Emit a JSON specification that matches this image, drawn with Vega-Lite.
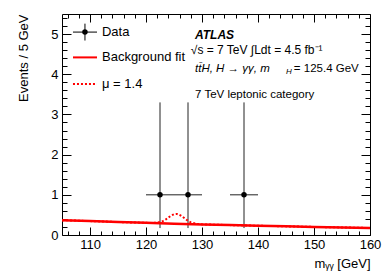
{
  "$schema": "https://vega.github.io/schema/vega-lite/v6.json",
  "width": 308,
  "height": 221,
  "autosize": {"type": "none"},
  "padding": {"left": 62, "top": 14, "right": 20, "bottom": 45},
  "background": "white",
  "config": {
    "view": {"stroke": null},
    "font": "Liberation Sans",
    "axis": {"domainColor": "black", "tickColor": "black", "labelColor": "black", "titleColor": "black", "grid": false, "labelFont": "Liberation Sans", "titleFont": "Liberation Sans", "labelFontSize": 13, "titleFontSize": 13, "titleFontWeight": "normal", "domainWidth": 1, "tickWidth": 1},
    "text": {"font": "Liberation Sans", "color": "black", "align": "left", "baseline": "middle"}
  },
  "datasets": {
    "points": [
      {"series": "Data", "m": 122.5, "n": 1, "lo": 0.173, "hi": 3.3, "mlo": 120, "mhi": 125},
      {"series": "Data", "m": 127.5, "n": 1, "lo": 0.173, "hi": 3.3, "mlo": 125, "mhi": 130},
      {"series": "Data", "m": 137.5, "n": 1, "lo": 0.173, "hi": 3.3, "mlo": 135, "mhi": 140}
    ],
    "bkg": [
      {"series": "Background fit", "m": 105, "v": 0.370},
      {"series": "Background fit", "m": 110, "v": 0.346},
      {"series": "Background fit", "m": 115, "v": 0.323},
      {"series": "Background fit", "m": 120, "v": 0.302},
      {"series": "Background fit", "m": 125, "v": 0.282},
      {"series": "Background fit", "m": 130, "v": 0.264},
      {"series": "Background fit", "m": 135, "v": 0.246},
      {"series": "Background fit", "m": 140, "v": 0.230},
      {"series": "Background fit", "m": 145, "v": 0.215},
      {"series": "Background fit", "m": 150, "v": 0.201},
      {"series": "Background fit", "m": 155, "v": 0.188},
      {"series": "Background fit", "m": 160, "v": 0.175}
    ],
    "sig": [
      {"series": "μ = 1.4", "m": 105, "v": 0.370},
      {"series": "μ = 1.4", "m": 110, "v": 0.346},
      {"series": "μ = 1.4", "m": 115, "v": 0.323},
      {"series": "μ = 1.4", "m": 120, "v": 0.302},
      {"series": "μ = 1.4", "m": 121, "v": 0.300},
      {"series": "μ = 1.4", "m": 122, "v": 0.307},
      {"series": "μ = 1.4", "m": 123, "v": 0.346},
      {"series": "μ = 1.4", "m": 123.5, "v": 0.385},
      {"series": "μ = 1.4", "m": 124, "v": 0.435},
      {"series": "μ = 1.4", "m": 124.5, "v": 0.483},
      {"series": "μ = 1.4", "m": 125, "v": 0.517},
      {"series": "μ = 1.4", "m": 125.5, "v": 0.525},
      {"series": "μ = 1.4", "m": 126, "v": 0.501},
      {"series": "μ = 1.4", "m": 126.5, "v": 0.456},
      {"series": "μ = 1.4", "m": 127, "v": 0.403},
      {"series": "μ = 1.4", "m": 127.5, "v": 0.353},
      {"series": "μ = 1.4", "m": 128, "v": 0.315},
      {"series": "μ = 1.4", "m": 129, "v": 0.276},
      {"series": "μ = 1.4", "m": 130, "v": 0.265},
      {"series": "μ = 1.4", "m": 135, "v": 0.246},
      {"series": "μ = 1.4", "m": 140, "v": 0.230},
      {"series": "μ = 1.4", "m": 145, "v": 0.215},
      {"series": "μ = 1.4", "m": 150, "v": 0.201},
      {"series": "μ = 1.4", "m": 155, "v": 0.188},
      {"series": "μ = 1.4", "m": 160, "v": 0.175}
    ],
    "one": [{"k": 1}]
  },
  "resolve": {"axis": {"x": "independent", "y": "independent"}},
  "layer": [
    {
      "data": {"name": "points"},
      "mark": {"type": "rule", "color": "#222", "strokeWidth": 1},
      "encoding": {
        "x": {"field": "m", "type": "quantitative", "scale": {"domain": [105, 160], "nice": false, "zero": false}, "axis": null},
        "y": {"field": "lo", "type": "quantitative", "scale": {"domain": [0, 5.5], "nice": false}, "axis": null},
        "y2": {"field": "hi"}
      }
    },
    {
      "data": {"name": "points"},
      "mark": {"type": "rule", "color": "#222", "strokeWidth": 1},
      "encoding": {
        "x": {"field": "mlo", "type": "quantitative", "axis": null},
        "x2": {"field": "mhi"},
        "y": {"field": "n", "type": "quantitative", "axis": null}
      }
    },
    {
      "data": {"name": "bkg"},
      "mark": {"type": "line", "strokeWidth": 2.5, "color": "#ff0000"},
      "encoding": {
        "x": {"field": "m", "type": "quantitative", "title": "mᵧᵧ [GeV]",
          "axis": {"orient": "bottom", "values": [106,108,110,112,114,116,118,120,122,124,126,128,130,132,134,136,138,140,142,144,146,148,150,152,154,156,158,160],
            "labelExpr": "datum.value % 10 === 0 ? datum.label : ''",
            "tickSize": {"condition": {"test": "datum.value % 10 === 0", "value": -8}, "value": -4},
            "labelPadding": 11, "titleAnchor": "end", "titlePadding": 2, "labelFlush": false, "labelOverlap": false}},
        "y": {"field": "v", "type": "quantitative", "title": "Events / 5 GeV",
          "axis": {"orient": "left", "values": [0,0.2,0.4,0.6,0.8,1,1.2,1.4,1.6,1.8,2,2.2,2.4,2.6,2.8,3,3.2,3.4,3.6,3.8,4,4.2,4.4,4.6,4.8,5,5.2,5.4],
            "labelExpr": "datum.value % 1 === 0 ? format(datum.value, 'd') : ''",
            "tickSize": {"condition": {"test": "datum.value % 1 === 0", "value": -9}, "value": -5},
            "labelPadding": 13, "titleAnchor": "end", "titlePadding": 20, "labelFlush": false, "labelOverlap": false}}
      }
    },
    {
      "data": {"name": "sig"},
      "mark": {"type": "line", "strokeWidth": 2, "strokeDash": [2, 2], "color": "#ff0000"},
      "encoding": {
        "x": {"field": "m", "type": "quantitative", "title": null,
          "axis": {"orient": "top", "values": [106,108,110,112,114,116,118,120,122,124,126,128,130,132,134,136,138,140,142,144,146,148,150,152,154,156,158,160],
            "labels": false,
            "tickSize": {"condition": {"test": "datum.value % 10 === 0", "value": -8}, "value": -4}}},
        "y": {"field": "v", "type": "quantitative", "title": null,
          "axis": {"orient": "right", "values": [0,0.2,0.4,0.6,0.8,1,1.2,1.4,1.6,1.8,2,2.2,2.4,2.6,2.8,3,3.2,3.4,3.6,3.8,4,4.2,4.4,4.6,4.8,5,5.2,5.4],
            "labels": false,
            "tickSize": {"condition": {"test": "datum.value % 1 === 0", "value": -9}, "value": -5}}}
      }
    },
    {
      "data": {"name": "points"},
      "mark": {"type": "point", "filled": true, "opacity": 1, "size": 30, "shape": "circle", "color": "black"},
      "encoding": {
        "x": {"field": "m", "type": "quantitative", "axis": null},
        "y": {"field": "n", "type": "quantitative", "axis": null}
      }
    },
    {
      "data": {"name": "one"},
      "mark": {"type": "rule", "color": "black", "strokeWidth": 1},
      "encoding": {"x": {"datum": 106.96, "type": "quantitative", "axis": null}, "x2": {"datum": 111.25}, "y": {"datum": 5.05, "type": "quantitative", "axis": null}}
    },
    {
      "data": {"name": "one"},
      "mark": {"type": "rule", "color": "black", "strokeWidth": 1},
      "encoding": {"x": {"datum": 109.1, "type": "quantitative", "axis": null}, "y": {"datum": 5.26, "type": "quantitative", "axis": null}, "y2": {"datum": 4.84}}
    },
    {
      "data": {"name": "one"},
      "mark": {"type": "point", "filled": true, "opacity": 1, "size": 30, "shape": "circle", "color": "black"},
      "encoding": {"x": {"datum": 109.1, "type": "quantitative", "axis": null}, "y": {"datum": 5.05, "type": "quantitative", "axis": null}}
    },
    {
      "data": {"name": "one"},
      "mark": {"type": "rule", "color": "#ff0000", "strokeWidth": 2},
      "encoding": {"x": {"datum": 106.96, "type": "quantitative", "axis": null}, "x2": {"datum": 111.25}, "y": {"datum": 4.42, "type": "quantitative", "axis": null}}
    },
    {
      "data": {"name": "one"},
      "mark": {"type": "rule", "color": "#ff0000", "strokeWidth": 2, "strokeDash": [2, 2]},
      "encoding": {"x": {"datum": 106.96, "type": "quantitative", "axis": null}, "x2": {"datum": 111.25}, "y": {"datum": 3.76, "type": "quantitative", "axis": null}}
    },
    {
      "data": {"values": [{"t": "Data"}]},
      "mark": {"type": "text", "fontSize": 13},
      "encoding": {"x": {"datum": 112.14, "type": "quantitative", "axis": null}, "y": {"datum": 5.05, "type": "quantitative", "axis": null}, "text": {"field": "t"}}
    },
    {
      "data": {"values": [{"t": "Background fit"}]},
      "mark": {"type": "text", "fontSize": 13},
      "encoding": {"x": {"datum": 112.14, "type": "quantitative", "axis": null}, "y": {"datum": 4.42, "type": "quantitative", "axis": null}, "text": {"field": "t"}}
    },
    {
      "data": {"values": [{"t": "μ = 1.4"}]},
      "mark": {"type": "text", "fontSize": 13},
      "encoding": {"x": {"datum": 112.14, "type": "quantitative", "axis": null}, "y": {"datum": 3.76, "type": "quantitative", "axis": null}, "text": {"field": "t"}}
    },
    {
      "data": {"values": [{"t": "ATLAS"}]},
      "mark": {"type": "text", "fontSize": 12, "fontWeight": "bold", "fontStyle": "italic"},
      "encoding": {"x": {"datum": 128.75, "type": "quantitative", "axis": null}, "y": {"datum": 4.97, "type": "quantitative", "axis": null}, "text": {"field": "t"}}
    },
    {
      "data": {"values": [{"t": "√s = 7 TeV  ∫Ldt = 4.5 fb⁻¹"}]},
      "mark": {"type": "text", "fontSize": 12},
      "encoding": {"x": {"datum": 128.0, "type": "quantitative", "axis": null}, "y": {"datum": 4.6, "type": "quantitative", "axis": null}, "text": {"field": "t"}}
    },
    {
      "data": {"values": [{"t": "tt̄H,  H → γγ,  m"}]},
      "mark": {"type": "text", "fontSize": 11.5, "fontStyle": "italic"},
      "encoding": {"x": {"datum": 128.75, "type": "quantitative", "axis": null}, "y": {"datum": 4.14, "type": "quantitative", "axis": null}, "text": {"field": "t"}}
    },
    {
      "data": {"values": [{"t": "H"}]},
      "mark": {"type": "text", "fontSize": 8, "fontStyle": "italic"},
      "encoding": {"x": {"datum": 145.0, "type": "quantitative", "axis": null}, "y": {"datum": 4.06, "type": "quantitative", "axis": null}, "text": {"field": "t"}}
    },
    {
      "data": {"values": [{"t": "= 125.4 GeV"}]},
      "mark": {"type": "text", "fontSize": 11.5},
      "encoding": {"x": {"datum": 146.4, "type": "quantitative", "axis": null}, "y": {"datum": 4.14, "type": "quantitative", "axis": null}, "text": {"field": "t"}}
    },
    {
      "data": {"values": [{"t": "7 TeV leptonic category"}]},
      "mark": {"type": "text", "fontSize": 11.5},
      "encoding": {"x": {"datum": 128.75, "type": "quantitative", "axis": null}, "y": {"datum": 3.49, "type": "quantitative", "axis": null}, "text": {"field": "t"}}
    }
  ]
}
